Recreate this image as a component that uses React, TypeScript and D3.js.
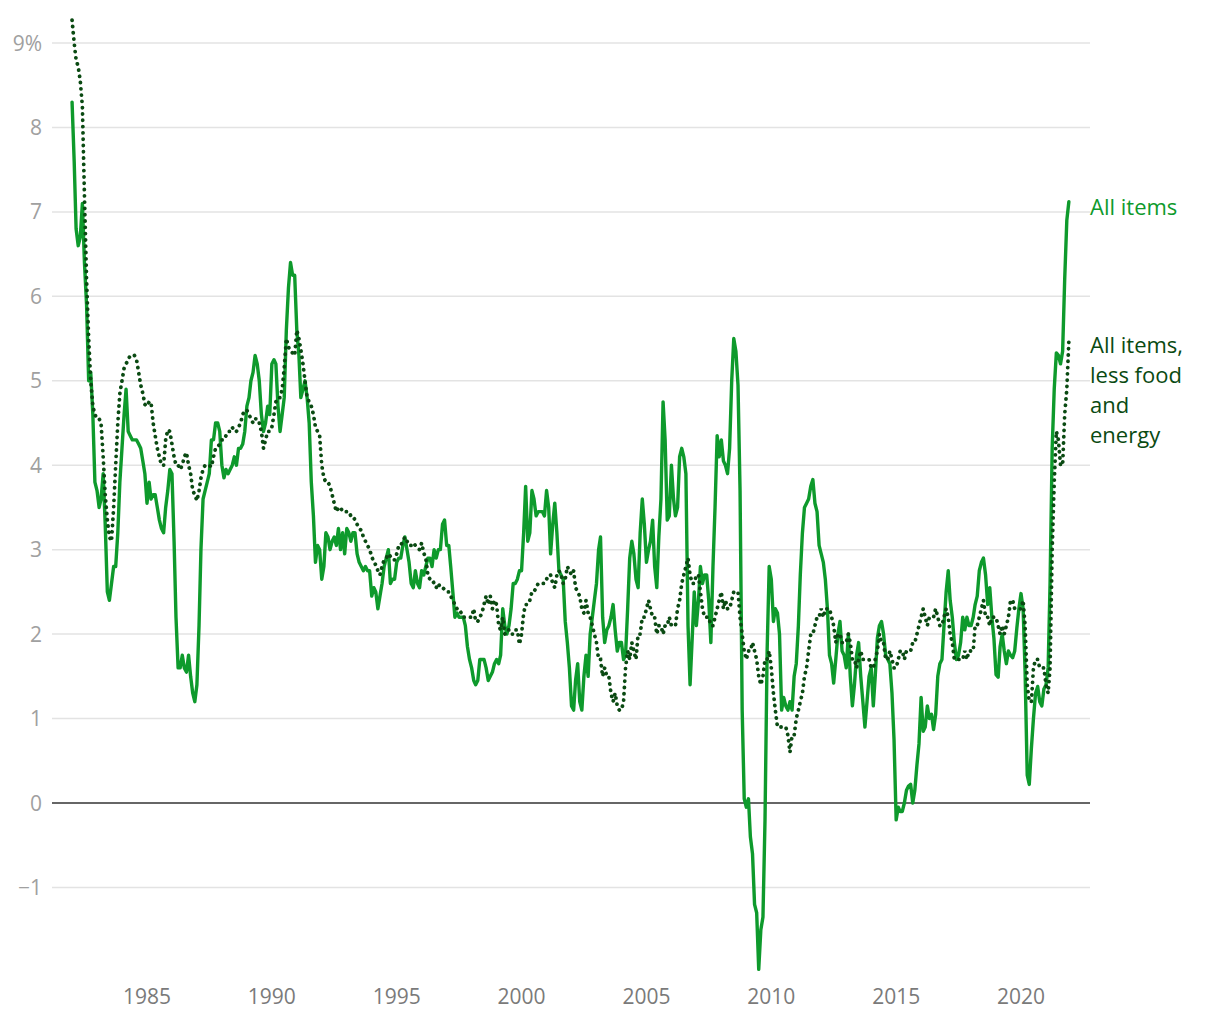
import React from "react";
import * as d3 from "d3";

// Monthly year-over-year change, Jan 1982 – Dec 2021
const startYear = 1982;

const allItems: number[] = [
  // 1982
  8.3, 7.6, 6.8, 6.6, 6.7, 7.1, 6.4, 5.9, 5.0, 5.1, 4.6, 3.8,
  // 1983
  3.7, 3.5, 3.6, 3.9, 3.3, 2.5, 2.4, 2.6, 2.8, 2.8, 3.2, 3.8,
  // 1984
  4.2, 4.6, 4.9, 4.4, 4.35, 4.3, 4.3, 4.3, 4.25, 4.2, 4.05, 3.9,
  // 1985
  3.55, 3.8, 3.6, 3.65, 3.65, 3.5, 3.35, 3.25, 3.2, 3.5, 3.7, 3.95,
  // 1986
  3.9, 3.1, 2.2, 1.6, 1.6, 1.75, 1.6, 1.55, 1.75, 1.5, 1.3, 1.2,
  // 1987
  1.4, 2.1, 3.0, 3.6, 3.7, 3.8, 3.9, 4.3, 4.3, 4.5, 4.5, 4.4,
  // 1988
  4.0, 3.85, 3.95, 3.9, 3.95, 4.0, 4.1, 4.0, 4.2, 4.2, 4.25, 4.4,
  // 1989
  4.7, 4.8, 5.0, 5.1, 5.3, 5.2, 5.0, 4.6, 4.4, 4.5, 4.7, 4.6,
  // 1990
  5.2, 5.25, 5.2, 4.7, 4.4, 4.6, 4.8, 5.6, 6.1, 6.4, 6.25, 6.25,
  // 1991
  5.6, 5.3, 4.8, 4.9, 5.0, 4.8, 4.5, 3.8, 3.4, 2.85, 3.05, 3.0,
  // 1992
  2.65, 2.8, 3.2, 3.15, 3.0, 3.1, 3.15, 3.05, 3.25, 3.0, 3.2, 2.95,
  // 1993
  3.25, 3.2, 3.1, 3.2, 3.2, 2.95, 2.85, 2.8, 2.75, 2.8, 2.75, 2.75,
  // 1994
  2.45, 2.55, 2.5, 2.3, 2.45, 2.6, 2.8, 2.9, 3.0, 2.6, 2.65, 2.65,
  // 1995
  2.85, 2.9, 2.9, 3.05, 3.15, 3.0, 2.85, 2.6, 2.55, 2.75, 2.6, 2.55,
  // 1996
  2.75, 2.7, 2.8, 2.9, 2.9, 2.8, 3.0, 2.9, 3.0, 3.0, 3.3, 3.35,
  // 1997
  3.05, 3.05, 2.8, 2.5, 2.2, 2.25, 2.2, 2.2, 2.2, 2.1, 1.85, 1.7,
  // 1998
  1.6, 1.45, 1.4, 1.45, 1.7, 1.7, 1.7, 1.6, 1.45, 1.5, 1.55, 1.65,
  // 1999
  1.7, 1.65, 1.75, 2.3, 2.1, 2.0, 2.1, 2.3, 2.6, 2.6, 2.65, 2.75,
  // 2000
  2.75, 3.2, 3.75, 3.1, 3.2, 3.7, 3.6, 3.4, 3.45, 3.45, 3.45, 3.4,
  // 2001
  3.7, 3.5, 2.95, 3.3, 3.55, 3.2, 2.75, 2.7, 2.65, 2.15, 1.9, 1.6,
  // 2002
  1.15, 1.1, 1.45, 1.65, 1.2, 1.1, 1.5, 1.75, 1.5, 2.0, 2.2, 2.4,
  // 2003
  2.6, 3.0, 3.15, 2.2, 1.9, 2.05, 2.1, 2.2, 2.35, 2.05, 1.8, 1.9,
  // 2004
  1.9, 1.7, 1.75, 2.3, 2.9, 3.1, 2.95, 2.65, 2.55, 3.2, 3.6, 3.3,
  // 2005
  2.85, 3.0, 3.1, 3.35, 2.8, 2.55, 3.15, 3.6, 4.75, 4.3, 3.35, 3.4,
  // 2006
  4.0, 3.6, 3.4, 3.5, 4.1, 4.2, 4.1, 3.9, 2.1, 1.4, 1.95, 2.5,
  // 2007
  2.1, 2.4, 2.8, 2.6, 2.7, 2.7, 2.4, 1.9, 2.8, 3.5, 4.35, 4.1,
  // 2008
  4.3, 4.05, 4.0, 3.9, 4.2, 5.0, 5.5, 5.35, 4.95, 3.7, 1.1, 0.05,
  // 2009
  -0.05, 0.05, -0.4, -0.6, -1.2, -1.3, -1.97, -1.5, -1.35, -0.2, 1.8, 2.8,
  // 2010
  2.65, 2.15, 2.3, 2.25, 2.0, 1.1, 1.25, 1.15, 1.1, 1.2, 1.1, 1.5,
  // 2011
  1.65, 2.1, 2.7, 3.2, 3.5, 3.55, 3.6, 3.75, 3.83, 3.55, 3.45, 3.05,
  // 2012
  2.95, 2.85, 2.65, 2.3, 1.75, 1.65, 1.42, 1.7, 2.0, 2.15, 1.8, 1.75,
  // 2013
  1.6, 2.0, 1.5, 1.15, 1.4, 1.75, 1.9, 1.5, 1.2, 0.9, 1.2, 1.5,
  // 2014
  1.6, 1.15, 1.5, 1.95, 2.1, 2.15, 2.0, 1.75, 1.7, 1.65, 1.3, 0.75,
  // 2015
  -0.2, -0.05, -0.1, -0.1, 0.0, 0.15, 0.2, 0.22, 0.0, 0.15, 0.45, 0.7,
  // 2016
  1.25, 0.85, 0.9, 1.15, 1.0, 1.05, 0.87, 1.05, 1.5, 1.65, 1.7, 2.1,
  // 2017
  2.5, 2.75, 2.4, 2.2, 1.9, 1.7, 1.75, 1.9, 2.2, 2.05, 2.2, 2.1,
  // 2018
  2.1, 2.2, 2.35, 2.45, 2.75, 2.85, 2.9, 2.7, 2.35, 2.55, 2.2, 1.95,
  // 2019
  1.52, 1.49, 1.85, 2.0, 1.8, 1.65, 1.8, 1.75, 1.72, 1.8, 2.07, 2.3,
  // 2020
  2.48, 2.3, 1.55, 0.33, 0.22, 0.65, 1.0, 1.3, 1.38, 1.2, 1.15, 1.35,
  // 2021
  1.4, 1.6, 2.6, 4.2, 4.9, 5.33, 5.3, 5.2, 5.35, 6.2, 6.9, 7.12,
];

const coreItems: number[] = [
  // 1982
  9.27, 9.0, 8.8, 8.72, 8.55, 8.25, 7.2, 6.2, 5.5, 5.0, 4.7, 4.6,
  // 1983
  4.55, 4.55, 4.5, 4.1, 3.65, 3.35, 3.15, 3.1, 3.5, 4.0, 4.5, 4.85,
  // 1984
  5.0, 5.15, 5.2, 5.25, 5.3, 5.3, 5.3, 5.25, 5.1, 4.95, 4.85, 4.72,
  // 1985
  4.7, 4.75, 4.75, 4.5, 4.35, 4.2, 4.1, 4.0, 4.0, 4.3, 4.42, 4.4,
  // 1986
  4.25, 4.1, 4.0, 4.0, 3.95, 4.0, 4.1, 4.15, 4.0, 3.9, 3.7, 3.65,
  // 1987
  3.58, 3.7, 3.85, 3.95, 4.0, 4.0, 4.0, 3.98, 4.1, 4.2, 4.22, 4.25,
  // 1988
  4.3, 4.3, 4.35, 4.4, 4.4, 4.45, 4.4, 4.4, 4.45, 4.5, 4.6, 4.65,
  // 1989
  4.65, 4.6, 4.55, 4.5, 4.55, 4.55, 4.5, 4.4, 4.2, 4.3, 4.4, 4.4,
  // 1990
  4.45, 4.6, 4.75, 4.8, 4.8, 4.9, 5.15, 5.5, 5.4, 5.35, 5.33, 5.3,
  // 1991
  5.6, 5.5, 5.37, 5.2, 5.0, 4.8, 4.75, 4.7, 4.6, 4.45, 4.4, 4.35,
  // 1992
  4.0, 3.85, 3.8, 3.8, 3.75, 3.65, 3.55, 3.45, 3.5, 3.5, 3.45, 3.45,
  // 1993
  3.45, 3.45, 3.4, 3.4, 3.35, 3.3, 3.25, 3.23, 3.15, 3.1, 3.05, 3.0,
  // 1994
  2.92, 2.85, 2.82, 2.75, 2.7, 2.8, 2.88, 2.9, 2.95, 2.92, 2.88, 2.88,
  // 1995
  2.95, 3.05, 3.05, 3.1, 3.15, 3.1, 3.05, 3.05, 3.08, 3.05, 3.02, 3.0,
  // 1996
  3.08, 2.96, 2.9, 2.7, 2.65, 2.65, 2.6, 2.55, 2.6, 2.55, 2.55, 2.53,
  // 1997
  2.5, 2.5, 2.45, 2.4, 2.35, 2.3, 2.3, 2.25, 2.2, 2.2, 2.2, 2.2,
  // 1998
  2.2, 2.3, 2.15, 2.15, 2.2, 2.25, 2.35, 2.45, 2.35, 2.45, 2.3, 2.4,
  // 1999
  2.35, 2.1, 2.05, 2.2, 2.0, 2.05, 2.05, 2.0, 2.0, 2.05, 2.05, 1.88,
  // 2000
  2.0, 2.25, 2.35, 2.35, 2.4, 2.5, 2.5, 2.55, 2.6, 2.6, 2.6, 2.6,
  // 2001
  2.65, 2.7, 2.7, 2.6, 2.55, 2.7, 2.75, 2.7, 2.6, 2.65, 2.8, 2.75,
  // 2002
  2.7, 2.75, 2.55, 2.5, 2.45, 2.3, 2.25, 2.4, 2.25, 2.2, 2.1, 2.0,
  // 2003
  1.9, 1.7, 1.7, 1.5, 1.6, 1.5, 1.5, 1.3, 1.2, 1.3, 1.15, 1.1,
  // 2004
  1.1, 1.2, 1.6, 1.8, 1.7, 1.9, 1.8, 1.7, 2.0, 2.0, 2.2, 2.2,
  // 2005
  2.3, 2.4, 2.3, 2.2, 2.2, 2.0, 2.1, 2.1, 2.0, 2.1, 2.1, 2.2,
  // 2006
  2.1, 2.1, 2.1, 2.3, 2.4, 2.6, 2.7, 2.8, 2.9, 2.7, 2.6, 2.6,
  // 2007
  2.7, 2.7, 2.5, 2.3, 2.2, 2.2, 2.2, 2.1, 2.1, 2.2, 2.3, 2.4,
  // 2008
  2.5, 2.3, 2.4, 2.3, 2.3, 2.4, 2.5, 2.5, 2.5, 2.2, 2.0, 1.8,
  // 2009
  1.7, 1.8, 1.8, 1.9, 1.8, 1.7, 1.5, 1.4, 1.5, 1.7, 1.7, 1.8,
  // 2010
  1.6, 1.3, 1.1, 0.9, 0.9, 0.9, 0.9, 0.9, 0.8, 0.6, 0.8, 0.8,
  // 2011
  1.0, 1.1, 1.2, 1.3, 1.5, 1.6, 1.8, 2.0, 2.0, 2.1, 2.2, 2.2,
  // 2012
  2.3, 2.2, 2.3, 2.3, 2.3, 2.2, 2.1, 1.9, 2.0, 2.0, 1.9, 1.9,
  // 2013
  1.9, 2.0, 1.9, 1.7, 1.7, 1.6, 1.7, 1.8, 1.7, 1.7, 1.7, 1.7,
  // 2014
  1.6, 1.6, 1.7, 1.8, 2.0, 1.9, 1.9, 1.7, 1.7, 1.8, 1.7, 1.6,
  // 2015
  1.6, 1.7, 1.8, 1.8, 1.7, 1.8, 1.8, 1.8, 1.9, 1.9, 2.0, 2.1,
  // 2016
  2.2, 2.3, 2.2, 2.1, 2.2, 2.2, 2.2, 2.3, 2.2, 2.1, 2.1, 2.2,
  // 2017
  2.3, 2.2, 2.0, 1.9, 1.7, 1.7, 1.7, 1.7, 1.7, 1.8, 1.7, 1.8,
  // 2018
  1.8, 1.8, 2.1, 2.1, 2.2, 2.3, 2.4, 2.2, 2.2, 2.1, 2.2, 2.2,
  // 2019
  2.2, 2.1, 2.0, 2.1, 2.0, 2.1, 2.2, 2.4, 2.4, 2.3, 2.3, 2.3,
  // 2020
  2.3, 2.4, 2.1, 1.4, 1.2, 1.2, 1.6, 1.7, 1.7, 1.6, 1.6, 1.6,
  // 2021
  1.4, 1.3, 1.6, 3.0, 3.8, 4.4, 4.3, 4.0, 4.0, 4.6, 4.9, 5.47,
];

const yTicks: number[] = [-1, 0, 1, 2, 3, 4, 5, 6, 7, 8, 9];
const xTickYears: number[] = [1985, 1990, 1995, 2000, 2005, 2010, 2015, 2020];

const labelAll: string[] = ["All items"];
const labelCore: string[] = ["All items,", "less food", "and", "energy"];

const W = 1220;
const H = 1020;
const FONT = "'Open Sans', Lato, sans-serif";
const GREEN = "#0e9a2c";
const DARK = "#0a4a12";

export default function App() {
  const x = d3
    .scaleTime()
    .domain([new Date(1985, 0, 1), new Date(2020, 0, 1)])
    .range([147, 1021]);
  const y = d3.scaleLinear().domain([0, 9]).range([803, 43]);

  const toPts = (arr: number[]) =>
    arr.map((v, i) => ({ date: new Date(startYear, i, 1), v }));

  const line = d3
    .line<{ date: Date; v: number }>()
    .x((d) => x(d.date))
    .y((d) => y(d.v))
    .curve(d3.curveLinear);

  const allPath = line(toPts(allItems)) || "";
  const corePath = line(toPts(coreItems)) || "";

  const gridX0 = 52;
  const gridX1 = 1090;

  return (
    <svg
      width={W}
      height={H}
      style={{ position: "absolute", left: 0, top: 0, display: "block", background: "#fff" }}
      fontFamily={FONT}
    >
      {yTicks
        .filter((t) => t !== 0)
        .map((t) => (
          <line
            key={"g" + t}
            x1={gridX0}
            x2={gridX1}
            y1={y(t)}
            y2={y(t)}
            stroke="#e3e3e3"
            strokeWidth={1.5}
          />
        ))}
      {yTicks.map((t) => (
        <text
          key={"yl" + t}
          x={42}
          y={y(t)}
          dy="0.36em"
          textAnchor="end"
          fontSize={21}
          fill="#a0a0a0"
        >
          {t === 9 ? "9%" : t < 0 ? "\u2212" + Math.abs(t) : String(t)}
        </text>
      ))}
      {xTickYears.map((yr) => (
        <text
          key={"xl" + yr}
          x={x(new Date(yr, 0, 1))}
          y={996}
          dy="0.36em"
          textAnchor="middle"
          fontSize={21}
          fill="#7a7a7a"
        >
          {yr}
        </text>
      ))}
      <line x1={gridX0} x2={gridX1} y1={y(0)} y2={y(0)} stroke="#333" strokeWidth={1.6} />

      <path
        d={allPath}
        fill="none"
        stroke={GREEN}
        strokeWidth={3.4}
        strokeLinejoin="round"
        strokeLinecap="round"
      />
      <path
        d={corePath}
        fill="none"
        stroke={DARK}
        strokeWidth={3.8}
        strokeDasharray="0.1 6.2"
        strokeLinecap="round"
      />

      {labelAll.map((s, i) => (
        <text key={"la" + i} x={1090} y={207 + i * 30} dy="0.36em" fontSize={22} fill={GREEN}>
          {s}
        </text>
      ))}
      {labelCore.map((s, i) => (
        <text key={"lc" + i} x={1090} y={345 + i * 30} dy="0.36em" fontSize={22} fill={DARK}>
          {s}
        </text>
      ))}
    </svg>
  );
}
